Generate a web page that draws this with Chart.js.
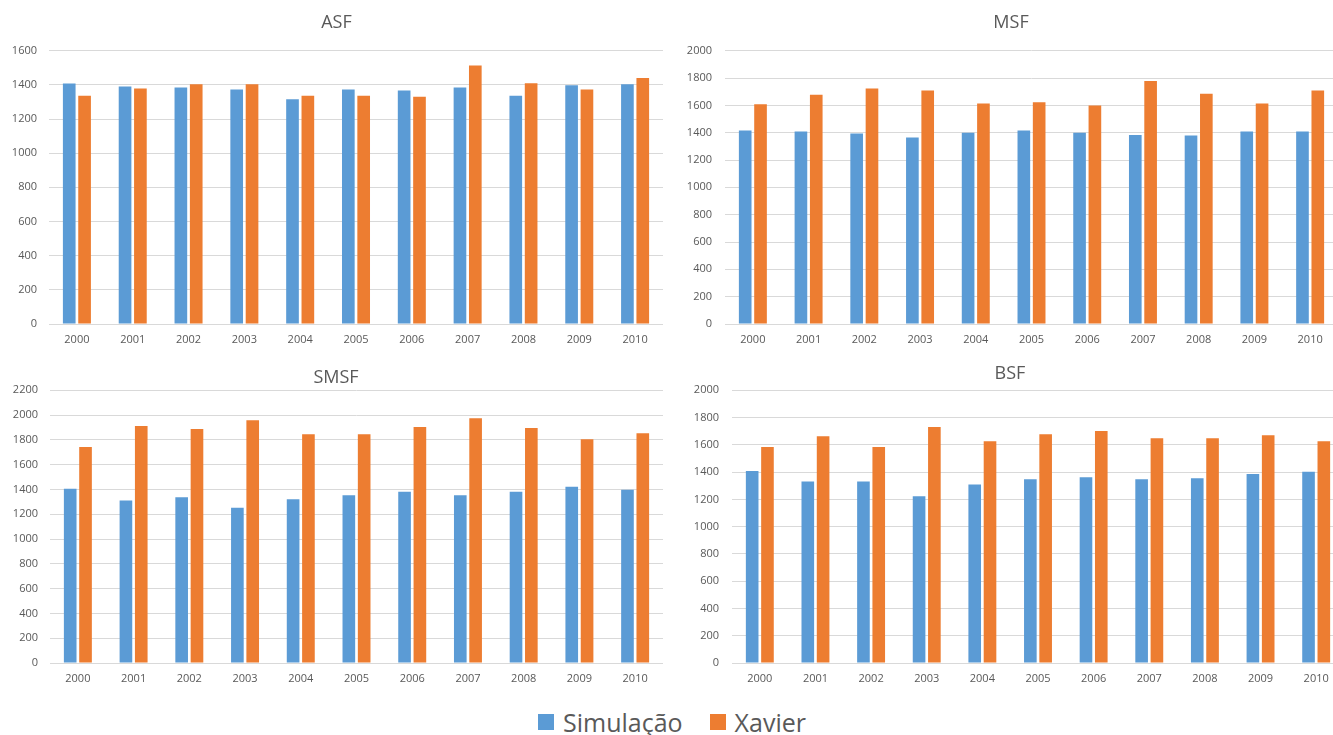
<!DOCTYPE html>
<html lang="pt">
<head>
<meta charset="utf-8">
<title>Precipitação anual: Simulação x Xavier</title>
<script src="https://cdn.jsdelivr.net/npm/chart.js@4/dist/chart.umd.min.js"></script>
<style>
  html, body { margin: 0; padding: 0; background: #ffffff; overflow: hidden; }
  body { width: 1333px; height: 735px; position: relative; font-family: 'Open Sans', sans-serif; }
  .panel { position: absolute; }
  .legend {
    position: absolute; left: 0; top: 705px; width: 1344px;
    display: flex; justify-content: center; align-items: center;
    font-size: 25px; line-height: 34px; color: #595959;
  }
  .legend .item { display: flex; align-items: center; }
  .legend .item + .item { margin-left: 27px; }
  .legend .swatch { width: 16px; height: 16px; margin-right: 9px; }
</style>
</head>
<body>
<div id="p0" class="panel"><canvas></canvas></div>
<div id="p1" class="panel"><canvas></canvas></div>
<div id="p2" class="panel"><canvas></canvas></div>
<div id="p3" class="panel"><canvas></canvas></div>
<div id="legend" class="legend"></div>

<script>
// Years on the category axis
const years = ['2000', '2001', '2002', '2003', '2004', '2005', '2006', '2007', '2008', '2009', '2010'];

// Series names and colours
const seriesNames = ['Simulação', 'Xavier'];
const seriesColors = ['#5B9BD5', '#ED7D31'];

// Panel titles and value-axis maxima
const panelTitles = ['ASF', 'MSF', 'SMSF', 'BSF'];
const axisMax = [1600, 2000, 2200, 2000];
const axisStep = 200;

// Annual totals per region (mm)
const asfSimulacao  = [1408, 1391, 1385, 1373, 1316, 1373, 1367, 1385, 1336, 1397, 1403];
const asfXavier     = [1336, 1379, 1403, 1403, 1336, 1336, 1330, 1514, 1410, 1373, 1440];

const msfSimulacao  = [1416, 1408, 1394, 1364, 1399, 1416, 1399, 1384, 1379, 1408, 1408];
const msfXavier     = [1609, 1677, 1724, 1709, 1614, 1623, 1599, 1778, 1685, 1614, 1709];

const smsfSimulacao = [1405, 1311, 1338, 1252, 1322, 1354, 1381, 1354, 1381, 1421, 1397];
const smsfXavier    = [1743, 1912, 1888, 1958, 1845, 1845, 1904, 1974, 1896, 1805, 1853];

const bsfSimulacao  = [1409, 1331, 1331, 1223, 1309, 1348, 1363, 1348, 1355, 1387, 1402];
const bsfXavier     = [1585, 1663, 1585, 1731, 1626, 1678, 1702, 1648, 1648, 1670, 1626];

const panelSeries = [
  [asfSimulacao, asfXavier],
  [msfSimulacao, msfXavier],
  [smsfSimulacao, smsfXavier],
  [bsfSimulacao, bsfXavier]
];

// Placement of each panel on the page
const panelBoxes = [
  { left: 10,  top: 0,   width: 653, height: 348, axisWidth: 39, titleTop: 11.7, titleBottom: 17.4, tickPad: 12 },
  { left: 684, top: 0,   width: 654, height: 348, axisWidth: 41, titleTop: 11.7, titleBottom: 17.4, tickPad: 13 },
  { left: 9,   top: 355, width: 654, height: 332, axisWidth: 41, titleTop: 12.5, titleBottom: 1.2,  tickPad: 12 },
  { left: 676, top: 355, width: 668, height: 332, axisWidth: 56, titleTop: 8.2,  titleBottom: 5.5,  tickPad: 13 }
];
const categoryAxisHeight = 24;

const textGray = '#595959';
const gridGray = '#D9D9D9';

Chart.defaults.font.family = "'Open Sans', sans-serif";
Chart.defaults.color = textGray;

panelTitles.forEach((title, i) => {
  const box = panelBoxes[i];
  const holder = document.getElementById('p' + i);
  holder.style.left = box.left + 'px';
  holder.style.top = box.top + 'px';
  holder.style.width = box.width + 'px';
  holder.style.height = box.height + 'px';

  new Chart(holder.querySelector('canvas'), {
    type: 'bar',
    data: {
      labels: years,
      datasets: seriesNames.map((name, k) => ({
        label: name,
        data: panelSeries[i][k],
        backgroundColor: seriesColors[k],
        borderWidth: 0,
        categoryPercentage: 0.55,
        barPercentage: 0.825
      }))
    },
    options: {
      responsive: true,
      maintainAspectRatio: false,
      animation: false,
      layout: { padding: 0 },
      plugins: {
        legend: { display: false },
        tooltip: { enabled: false },
        title: {
          display: true,
          text: title,
          color: textGray,
          font: { size: 18, weight: 'normal' },
          padding: { top: box.titleTop, bottom: box.titleBottom }
        }
      },
      scales: {
        x: {
          grid: { display: false, drawTicks: false },
          border: { display: true, color: gridGray, width: 1 },
          ticks: { color: textGray, font: { size: 11 }, padding: 9, maxRotation: 0, autoSkip: false },
          afterFit: scale => { scale.height = categoryAxisHeight; }
        },
        y: {
          min: 0,
          max: axisMax[i],
          grid: { color: gridGray, lineWidth: 1, drawTicks: false },
          border: { display: false },
          ticks: {
            stepSize: axisStep,
            color: textGray,
            font: { size: 11 },
            padding: box.tickPad,
            callback: v => String(v)
          },
          afterFit: scale => { scale.width = box.axisWidth; }
        }
      }
    }
  });
});

// Shared legend below the four panels
const legend = document.getElementById('legend');
seriesNames.forEach((name, k) => {
  const item = document.createElement('div');
  item.className = 'item';
  const sw = document.createElement('span');
  sw.className = 'swatch';
  sw.style.background = seriesColors[k];
  const txt = document.createElement('span');
  txt.textContent = name;
  item.appendChild(sw);
  item.appendChild(txt);
  legend.appendChild(item);
});
</script>
</body>
</html>
